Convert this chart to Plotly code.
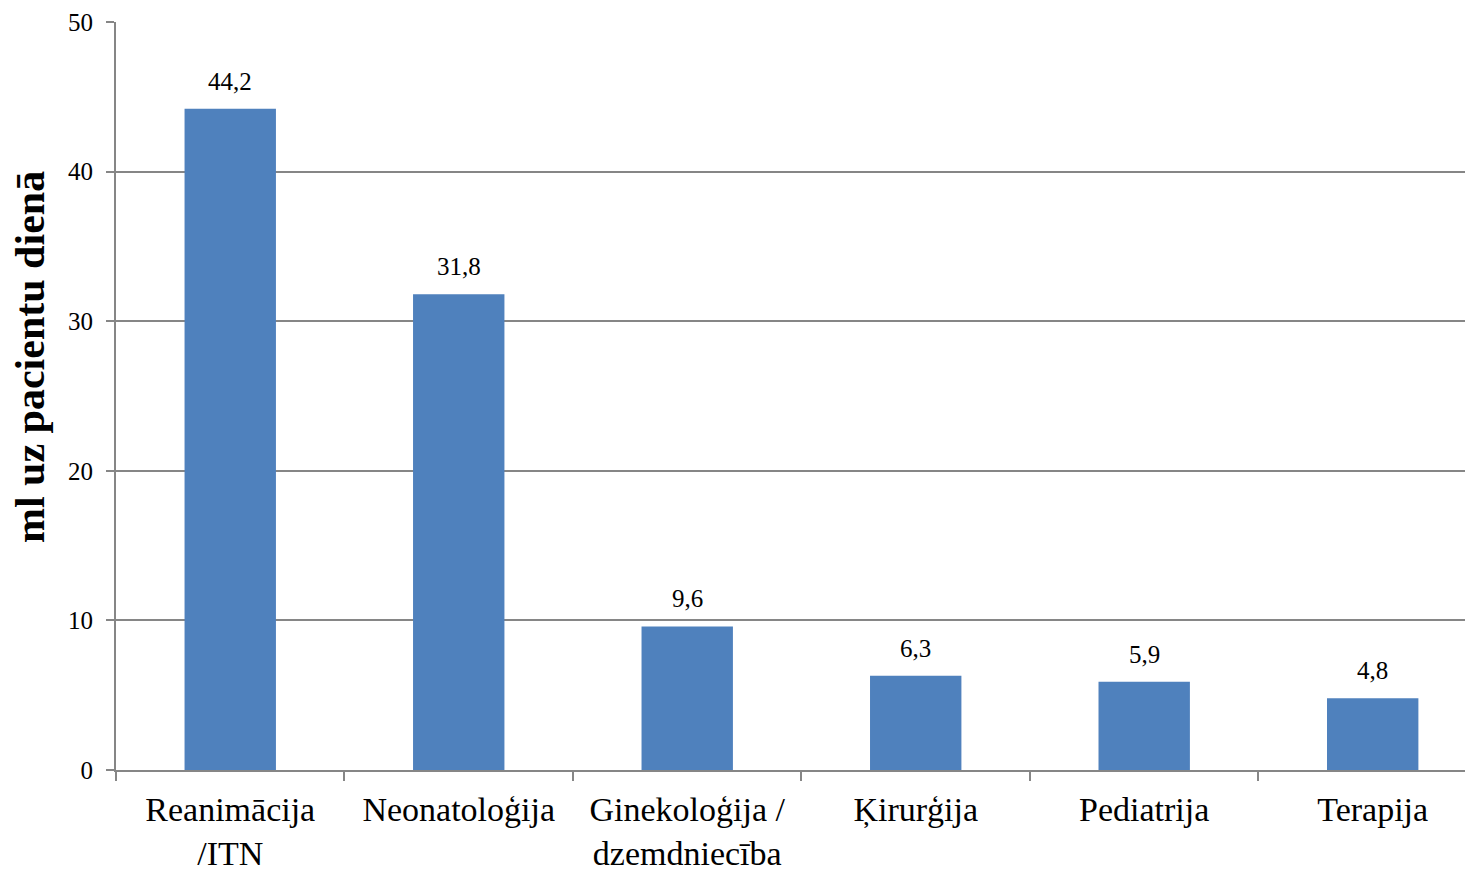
import plotly.graph_objects as go

categories = ["Reanimācija<br>/ITN", "Neonatoloģija", "Ginekoloģija /<br>dzemdniecība",
              "Ķirurģija", "Pediatrija", "Terapija"]
values = [44.2, 31.8, 9.6, 6.3, 5.9, 4.8]
value_labels = ["44,2", "31,8", "9,6", "6,3", "5,9", "4,8"]
y_ticks = [0, 10, 20, 30, 40, 50]
y_title = "ml uz pacientu dienā"

FONT = "Times New Roman, Liberation Serif, serif"
GRID = "#868686"

fig = go.Figure(go.Bar(
    x=categories, y=values,
    marker=dict(color="#4F81BD", line=dict(width=0)),
    width=0.4,
    hoverinfo="x+y",
))

for c, v, lab in zip(categories, values, value_labels):
    fig.add_annotation(x=c, y=v, text=lab, showarrow=False, yanchor="bottom",
                       yshift=12, font=dict(family=FONT, size=25, color="black"))

# y-axis title (placed as rotated annotation to match the original's offset)
fig.add_annotation(text="<b>" + y_title + "</b>", xref="paper", yref="paper",
                   x=-0.0634, y=0.552, xanchor="center", yanchor="middle",
                   textangle=-90, showarrow=False,
                   font=dict(family=FONT, size=42, color="black"))

fig.update_layout(
    width=1465, height=865,
    margin=dict(l=108, r=0, t=14, b=103),
    paper_bgcolor="white", plot_bgcolor="white",
    showlegend=False,
    font=dict(family=FONT, color="black"),
)
fig.update_xaxes(
    type="category", range=[-0.5, 5.439],
    showline=True, linecolor=GRID, linewidth=2,
    ticks="outside", tickson="boundaries", ticklen=9, tickcolor=GRID, tickwidth=2,
    tickfont=dict(family=FONT, size=34, color="black"),
    ticklabelstandoff=8,
    showgrid=False,
)
fig.update_yaxes(
    range=[0, 50], tickvals=y_ticks,
    showline=True, linecolor=GRID, linewidth=2,
    ticks="outside", ticklen=8, tickcolor=GRID, tickwidth=2,
    tickfont=dict(family=FONT, size=25, color="black"),
    ticklabelstandoff=8,
    showgrid=True, gridcolor=GRID, gridwidth=2,
    zeroline=False,
)

fig.write_html("out.html", post_script="document.body.style.overflow='hidden';")
